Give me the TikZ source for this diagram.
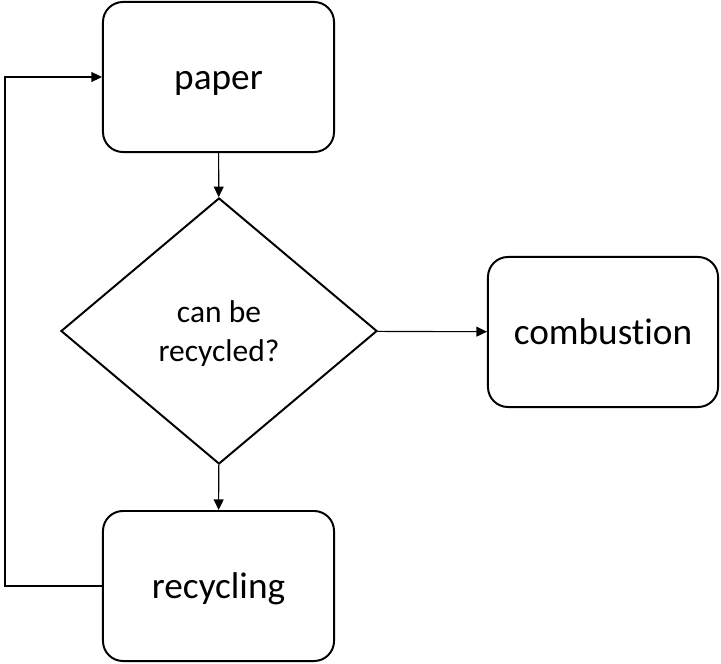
\documentclass[tikz,border=0pt]{standalone}
\usepackage{fontspec}
\setmainfont{Carlito}[RawFeature=-liga]
\usetikzlibrary{shapes.geometric,arrows.meta}

\tikzset{
  stepbox/.style={draw,line width=1.4pt,rounded corners=0.5cm,
    minimum width=5.775cm,minimum height=3.75cm,text height=0.62cm,text depth=0pt,
    font=\fontsize{26.5}{30}\selectfont},
  question/.style={draw,diamond,line width=1.4pt,inner sep=0pt,aspect=1.19,
    minimum width=7.9cm,minimum height=6.65cm,align=center,text depth=0pt,
    font=\fontsize{22.4}{27.5}\selectfont},
  flow/.style={line width=0.8pt,-{Triangle[length=7.5pt,width=7pt]}}
}

\begin{document}
\begin{tikzpicture}[x=0.025cm,y=-0.025cm]

\useasboundingbox (0,0) rectangle (721,663);

% boxes
\node[stepbox] (paper) at (218.5,77) {paper};
\node[question] (check) at (219,331) {can be\\recycled?};
\node[stepbox,minimum width=5.75cm] (combustion) at (603,332) {combustion};
\node[stepbox] (recycling) at (218.5,586) {recycling};

% arrows
\draw[flow] (paper) -- (check);
\draw[flow] (check) -- (combustion);
\draw[flow] (check) -- (recycling);

% back to paper
\coordinate (loop) at (5,0);
\draw[flow] (recycling.west) -- (recycling.west -| loop) -- (paper.west -| loop) -- (paper.west);

\end{tikzpicture}
\end{document}
